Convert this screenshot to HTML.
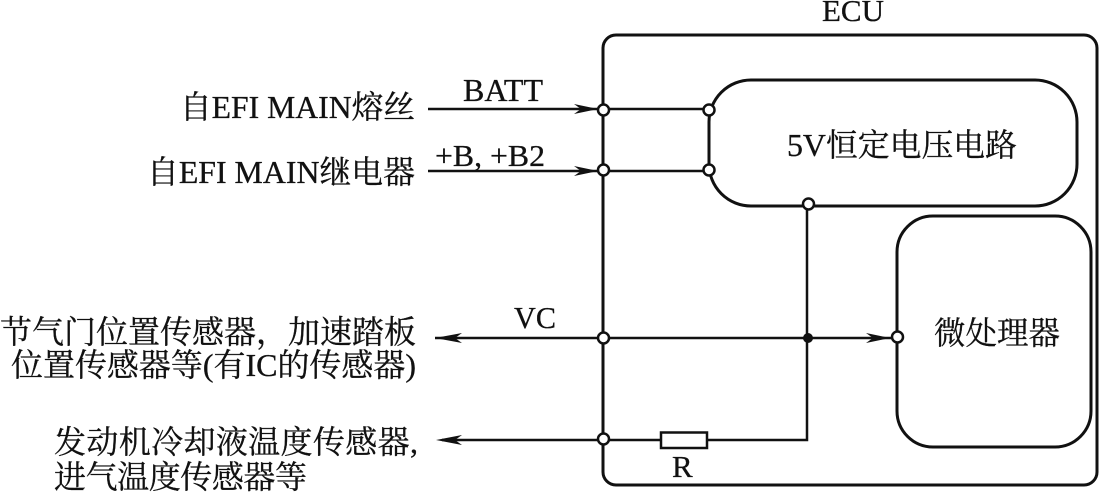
<!DOCTYPE html>
<html>
<head>
<meta charset="utf-8">
<style>
html,body{margin:0;padding:0;background:#fff;}
svg{display:block;}
text{font-family:"Liberation Serif","Noto Serif CJK SC",serif;fill:#111;stroke:#111;stroke-width:.3;}
</style>
</head>
<body>
<svg width="1099" height="493" viewBox="0 0 1099 493" xmlns="http://www.w3.org/2000/svg">
<rect width="1099" height="493" fill="#fff"/>
<g fill="none" stroke="#111">
<rect x="603" y="35" width="494" height="450" rx="13" stroke-width="3"/>
<rect x="709" y="80" width="368" height="126" rx="42" stroke-width="3"/>
<rect x="897" y="216" width="194" height="231" rx="36" stroke-width="3"/>
<path d="M428 109H709M428 171H709M435 338H897M442 440H807V204" stroke-width="2.5"/>
</g>
<g fill="#111" stroke="none">
<path d="M598 109L574 104L581 109L574 114Z"/>
<path d="M598 171L574 166L581 171L574 176Z"/>
<path d="M890 338L866 333L873 338L866 343Z"/>
<path d="M435 338L462 333L455 338L462 343Z"/>
<path d="M436 440L462 435L455 440L462 445Z"/>
<circle cx="808" cy="338" r="5"/>
</g>
<rect x="661" y="432.500" width="46" height="15.500" fill="#fff" stroke="#111" stroke-width="2.500"/>
<g fill="#fff" stroke="#111" stroke-width="2.500">
<circle cx="603.500" cy="110" r="5.500"/>
<circle cx="603.500" cy="170" r="5.500"/>
<circle cx="603.500" cy="338" r="5.500"/>
<circle cx="603.500" cy="439" r="5.500"/>
<circle cx="709" cy="110" r="5.500"/>
<circle cx="709" cy="170" r="5.500"/>
<circle cx="808.500" cy="204" r="5.500"/>
<circle cx="897.500" cy="337" r="5.500"/>
</g>
<text x="853" y="21" font-size="31" text-anchor="middle">ECU</text>
<text x="463" y="101" font-size="32" textLength="80" lengthAdjust="spacingAndGlyphs">BATT</text>
<text x="435" y="166" font-size="31" textLength="110" lengthAdjust="spacingAndGlyphs">+B, +B2</text>
<text x="514" y="328" font-size="31" textLength="42" lengthAdjust="spacingAndGlyphs">VC</text>
<text x="672" y="477" font-size="31">R</text>
<text x="787" y="156" font-size="32" textLength="230" lengthAdjust="spacingAndGlyphs">5V恒定电压电路</text>
<text x="934" y="344" font-size="32" textLength="126" lengthAdjust="spacingAndGlyphs">微处理器</text>
<text x="180" y="118" font-size="32" textLength="235" lengthAdjust="spacingAndGlyphs">自EFI MAIN熔丝</text>
<text x="147" y="183" font-size="32" textLength="268" lengthAdjust="spacingAndGlyphs">自EFI MAIN继电器</text>
<text x="0" y="343" font-size="32" textLength="416" lengthAdjust="spacing">节气门位置传感器，加速踏板</text>
<text x="11" y="376" font-size="32" textLength="405" lengthAdjust="spacingAndGlyphs">位置传感器等(有IC的传感器)</text>
<text x="54" y="453" font-size="32" textLength="364" lengthAdjust="spacing">发动机冷却液温度传感器,</text>
<text x="54" y="488" font-size="32" textLength="253" lengthAdjust="spacing">进气温度传感器等</text>
</svg>
</body>
</html>
